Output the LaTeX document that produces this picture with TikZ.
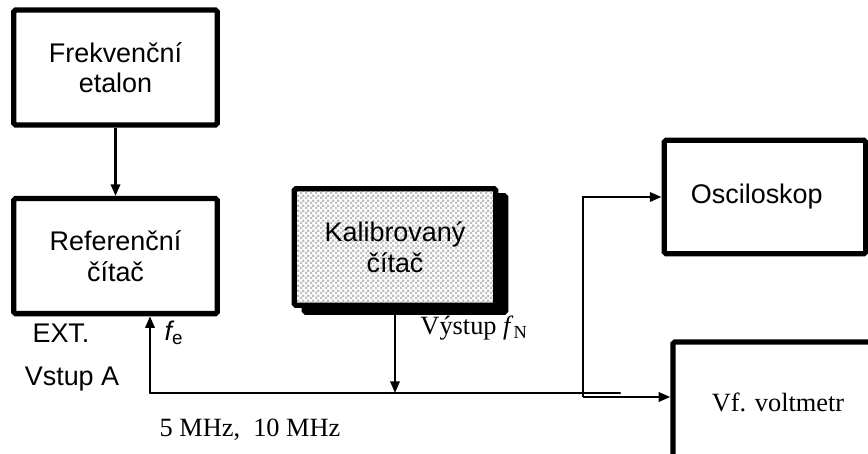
\documentclass[tikz,border=0pt]{standalone}
\usepackage{fontspec}
\setmainfont{Liberation Serif}
\setsansfont{Liberation Sans}
\usetikzlibrary{arrows.meta,positioning,patterns,shadows,calc}

% small grey/white checkerboard for the device under test
\pgfdeclarepatternformonly{fine checker}{\pgfpointorigin}{\pgfqpoint{4pt}{4pt}}{\pgfqpoint{4pt}{4pt}}{%
  \pgfpathrectangle{\pgfpointorigin}{\pgfqpoint{2pt}{2pt}}%
  \pgfpathrectangle{\pgfqpoint{2pt}{2pt}}{\pgfqpoint{2pt}{2pt}}%
  \pgfusepath{fill}}

\begin{document}
\begin{tikzpicture}[
    x=0.03cm, y=-0.03cm,
    box/.style  = {draw, line width=4.5pt, rounded corners=1.5pt, minimum width=6.1cm,
                   minimum height=3.45cm, align=center,
                   font=\sffamily\fontsize{23}{26}\selectfont},
    dut/.style  = {box, drop shadow={shadow xshift=0.3cm, shadow yshift=-0.21cm,
                   fill=black, draw=black, line width=4.5pt, opacity=1},
                   preaction={fill=white}, pattern=fine checker, pattern color=black!25},
    arr/.style  = {-{Triangle[length=10pt,width=8pt]}, line width=2pt},
    wire/.style = {line width=2pt, line cap=round},
    lbl/.style  = {font=\sffamily\fontsize{23}{26}\selectfont},
    tlbl/.style = {font=\rmfamily\fontsize{22.5}{26}\selectfont},
  ]
  \useasboundingbox (0,0) rectangle (868,454);

  % instruments
  \node[box] (etal) at (115.5,67.5) {Frekvenční\\etalon};
  \node[box, below=2.05cm of etal] (ref) {Referenční\\čítač};
  \node[dut, minimum width=6.05cm, minimum height=3.5cm] (kal) at (395,247) {Kalibrovaný\\čítač};
  \node[box, minimum width=6.05cm, minimum height=3.4cm] (osc) at (765,197) {Osciloskop\hspace{14pt}};
  \node[box, minimum width=6.3cm, minimum height=3.6cm,
        font=\rmfamily\fontsize{22.5}{26}\selectfont] (volt) at (778,402) {Vf. voltmetr};

  % signal bus
  \coordinate (ja) at (150,393);
  \coordinate (jm) at (583,397);
  \coordinate (stub) at (620,393);

  \draw[arr] (etal) -- (ref);
  \draw[wire] (ja) -- (stub);
  \draw[arr] (ja) -- (ja |- ref.south);
  \draw[arr] (kal) -- (kal |- ja);
  \draw[arr] (jm) |- (osc);
  \draw[arr] (jm) -- (jm -| volt.west);

  % labels
  \node[lbl] (ext) at (61,333) {EXT.};
  \node[lbl] (vstupa) at (72,379) {Vstup A};
  \node[lbl] (fe) at (174,333) {{\itshape f}\textsubscript{e}};
  \node[tlbl] (vyst) at (474,328) {Výstup \textit{f}\textsubscript{N}};
  \node[tlbl] (freq) at (250,430) {5 MHz,\ \ 10 MHz};
\end{tikzpicture}
\end{document}
